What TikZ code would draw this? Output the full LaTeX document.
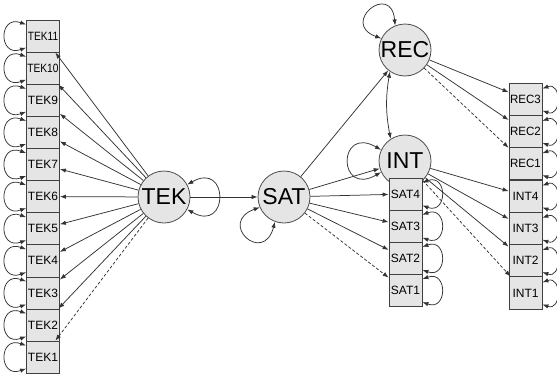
\documentclass[tikz,border=0pt]{standalone}
\usepackage{fontspec}
\setmainfont{Liberation Sans}
\usetikzlibrary{arrows.meta}

\begin{document}
\begin{tikzpicture}[x=1pt, y=1pt,
        latente/.style={circle, draw=black!70, line width=0.8pt, fill=gray!20, minimum size=52pt, inner sep=0pt, font=\fontsize{23}{23}\selectfont},
        osservata/.style={rectangle, draw=black!75, line width=0.8pt, fill=gray!20, minimum width=33pt, minimum height=32.2pt, inner sep=0pt, font=\fontsize{12}{12}\selectfont},
        freccia/.style={draw=black!80, line width=0.75pt, -{Latex[length=6pt,width=4.4pt]}},
        errore/.style={draw=black!80, line width=0.75pt, {Latex[length=6pt,width=4.4pt]}-{Latex[length=6pt,width=4.4pt]}},
        fissa/.style={dash pattern=on 3pt off 2pt}]
        \useasboundingbox (0,0) rectangle (557,-375);

        % Variabili latenti
        \node[latente] (TEK) at (164,-197) {TEK};
        \node[latente] (SAT) at (284,-197) {SAT};
        \node[latente] (REC) at (405,-50) {REC};
        \node[latente] (INT) at (405,-161) {INT};

        % Indicatori
        \foreach \i in {1,...,11}
            \node[osservata] (T\i) at (43,{-357.1+(\i-1)*32.1}) {\ifnum\i>9 \scalebox{0.85}[1]{TEK\i}\else TEK\i\fi};
        \foreach \i in {1,...,4}
            \node[osservata] (S\i) at (405.5,{-290.6+(\i-1)*32.2}) {SAT\i};
        \foreach \i in {1,...,4}
            \node[osservata] (I\i) at (525.5,{-292.9+(\i-1)*32.3}) {INT\i};
        \foreach \i in {1,...,3}
            \node[osservata] (R\i) at (525.5,{-163.7+(\i-1)*32.3}) {\scalebox{0.96}[1]{REC\i}};

        % Saturazioni
        \foreach \i in {2,...,11} \draw[freccia] (TEK) -- (T\i);
        \draw[freccia, fissa] (TEK) -- (T1);
        \foreach \i in {2,3,4} \draw[freccia] (SAT) -- (S\i);
        \draw[freccia, fissa] (SAT) -- (S1);
        \foreach \i in {2,3,4} \draw[freccia] (INT) -- (I\i);
        \draw[freccia, fissa] (INT) -- (I1);
        \foreach \i in {2,3} \draw[freccia] (REC) -- (R\i);
        \draw[freccia, fissa] (REC) -- (R1);

        % Percorsi strutturali
        \draw[freccia] (TEK) -- (SAT);
        \draw[freccia] (SAT) -- (REC);
        \draw[freccia] (SAT) -- (INT);
        \draw[errore] (REC.235) to[bend right=10] (INT.123);

        % Errori
        \foreach \i in {1,...,11}
            \draw[errore] ([yshift=-5pt]T\i.north west) to[out=160,in=200,looseness=3.3] ([yshift=5pt]T\i.south west);
        \foreach \i in {1,...,4}
            \draw[errore] ([yshift=-5pt]S\i.north east) to[out=20,in=-20,looseness=3] ([yshift=5pt]S\i.south east);
        \foreach \n in {I1,I2,I3,I4,R1,R2,R3}
            \draw[errore] ([yshift=-6pt]\n.north east) to[out=20,in=-20,looseness=2.4] ([yshift=5pt]\n.south east);
        \draw[errore] (TEK.28) to[out=30,in=-30,looseness=5] (TEK.-28);
        \draw[errore] (SAT.203) to[out=200,in=255,looseness=5.5] (SAT.250);
        \draw[errore] (REC.154) to[out=160,in=95,looseness=6] (REC.112);
        \draw[errore] (INT.155) to[out=150,in=210,looseness=5.8] (INT.205);
    \end{tikzpicture}
\end{document}
